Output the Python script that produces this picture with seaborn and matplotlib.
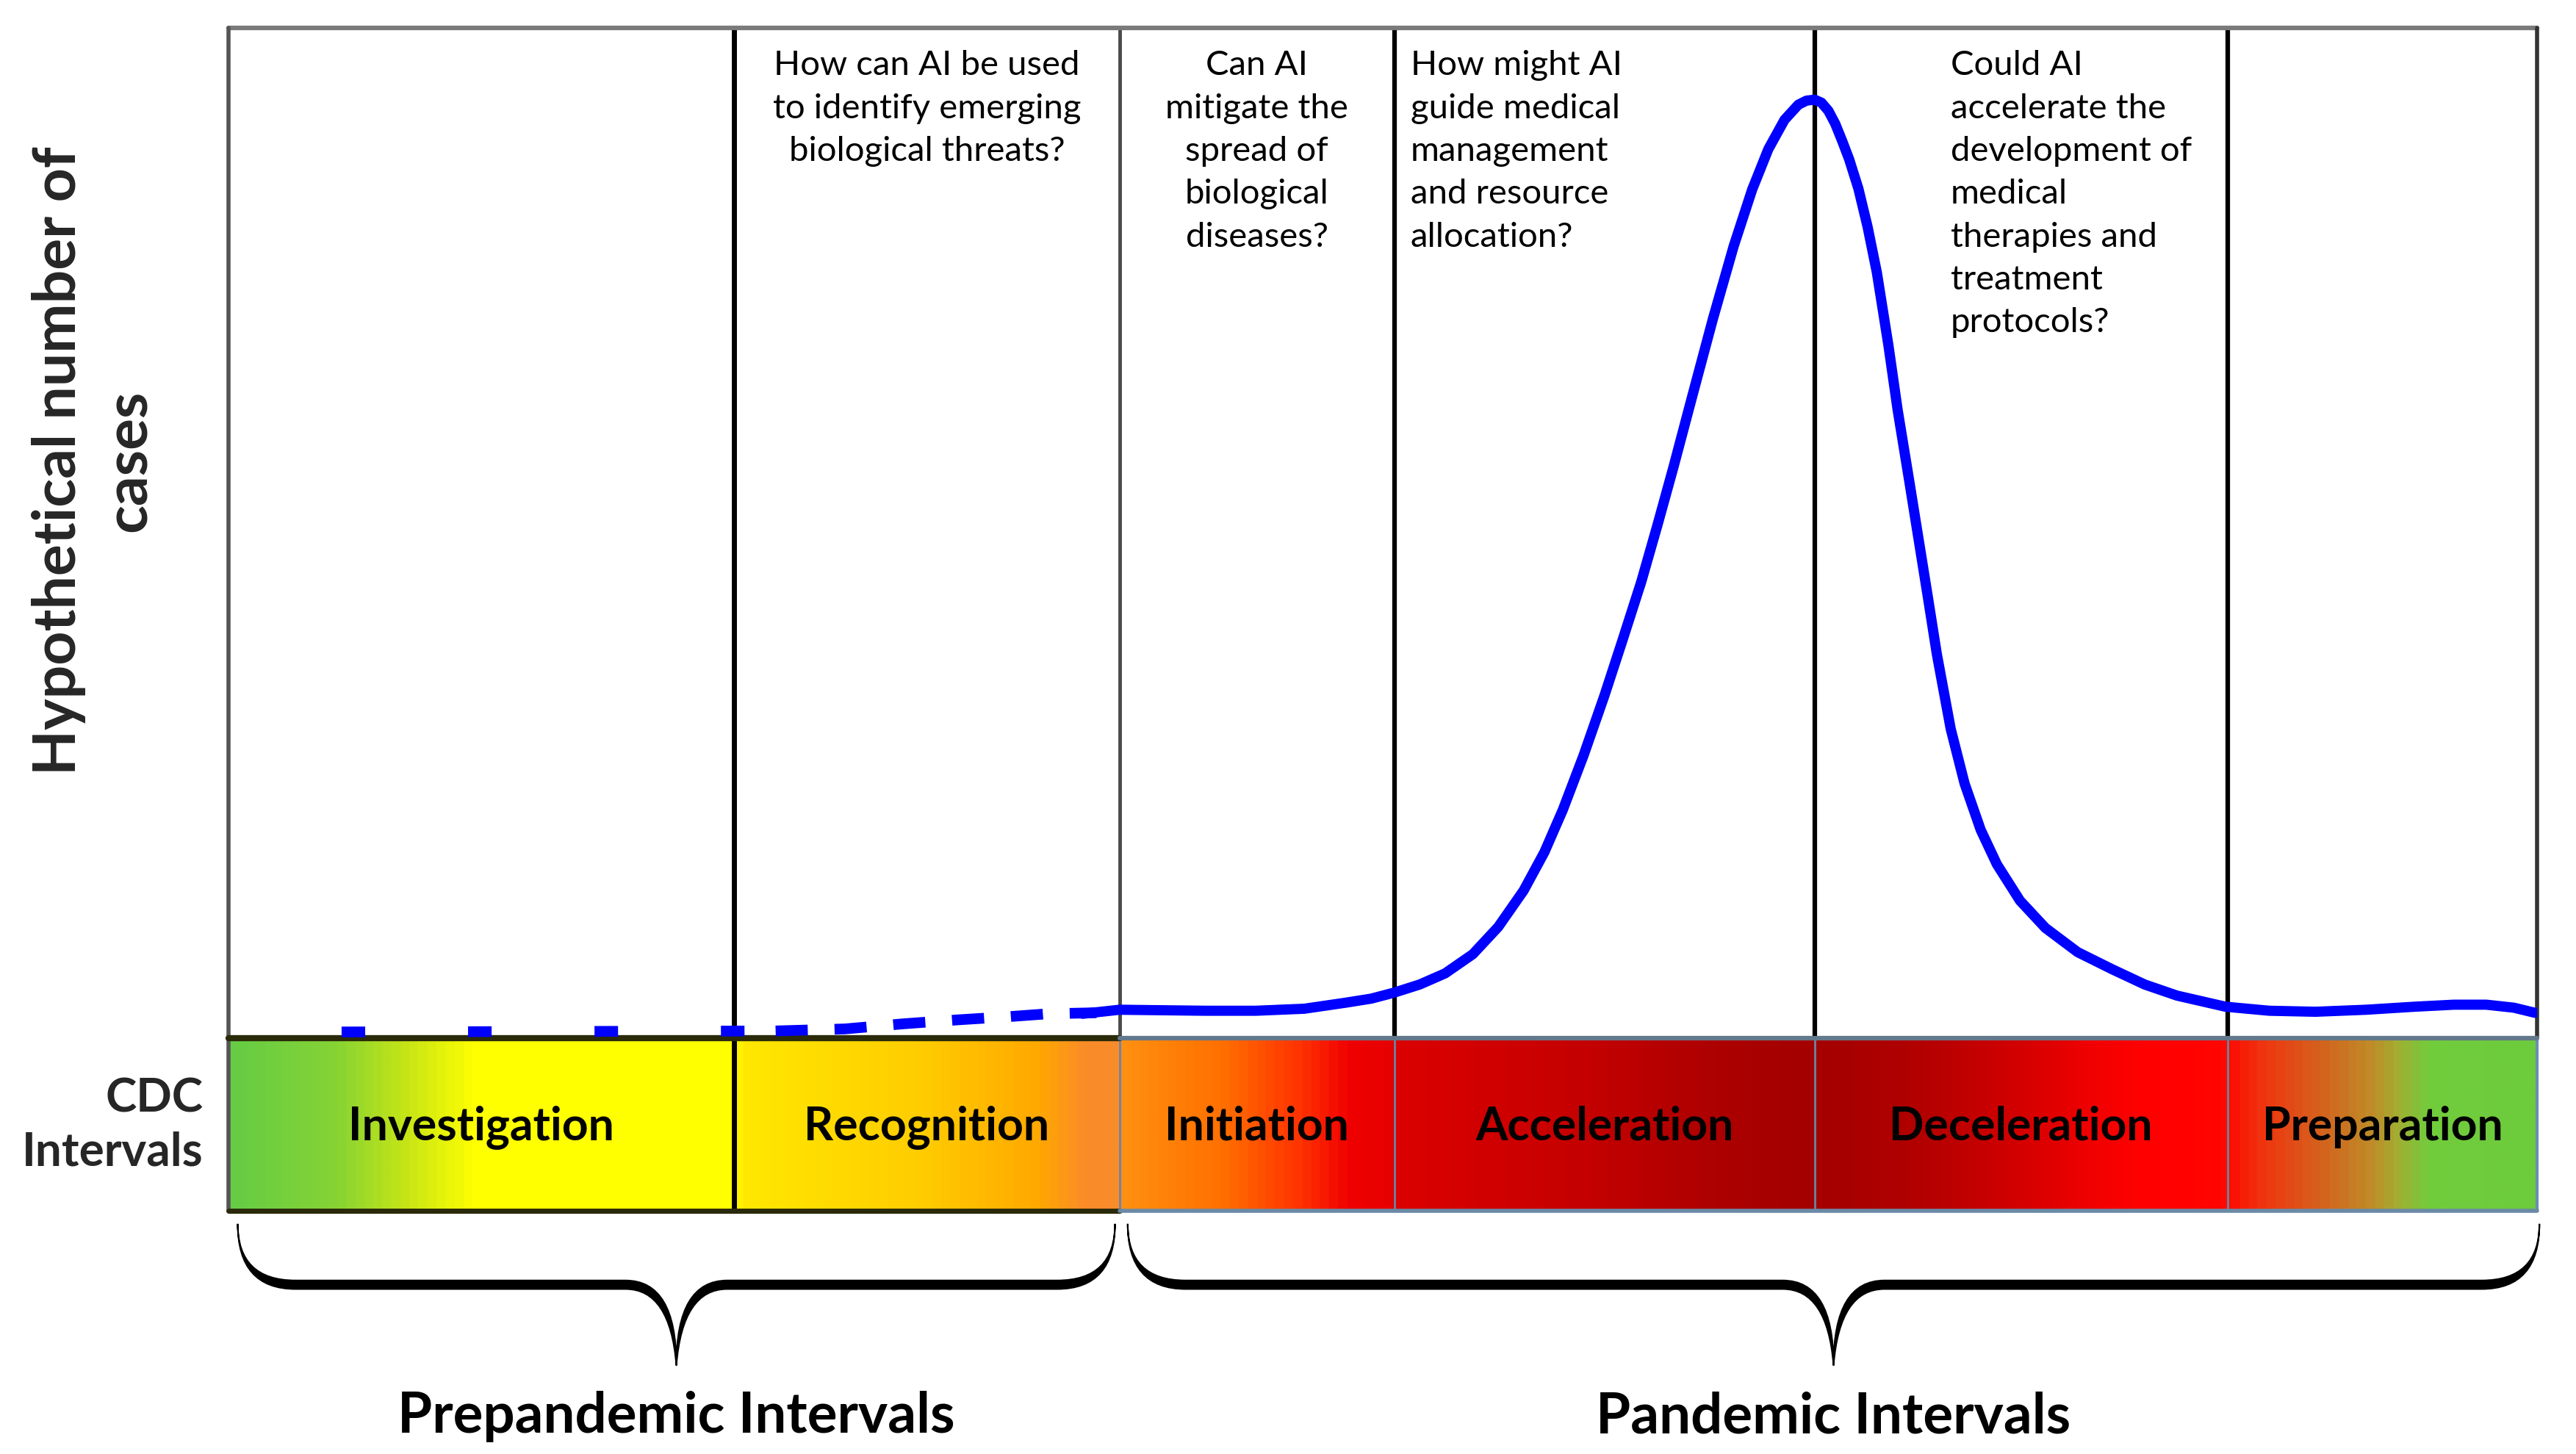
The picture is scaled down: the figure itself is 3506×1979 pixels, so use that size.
import numpy as np
import matplotlib.pyplot as plt
import seaborn as sns
from matplotlib.colors import LinearSegmentedColormap
from matplotlib.path import Path
from matplotlib.patches import PathPatch

# Hypothetical pandemic curve with the CDC intervals below it
# (time axis 0-100, cases axis 0-100, both)

# CDC intervals and their limits on the time axis
intervalli = ["Investigation", "Recognition", "Initiation", "Acceleration", "Deceleration", "Preparation"]
limiti = [0, 21.9, 38.6, 50.5, 68.7, 86.6, 100]

# Groups under the braces
gruppi = ["Prepandemic Intervals", "Pandemic Intervals"]
gruppi_inizio = [0.4, 38.95]
gruppi_fine = [38.4, 100.1]

# Questions on top of the intervals
domande = [
    "How can AI be used\nto identify emerging\nbiological threats?",
    "Can AI\nmitigate the\nspread of\nbiological\ndiseases?",
    "How might AI\nguide medical\nmanagement\nand resource\nallocation?",
    "Could AI\naccelerate the\ndevelopment of\nmedical\ntherapies and\ntreatment\nprotocols?",
]
domande_x = [30.25, 44.55, 51.2, 74.6]
domande_allineamento = ["center", "center", "left", "left"]

# Dashed (prepandemic) part of the curve
pre_x = [4.9, 23.7]
pre_y = [0.6, 0.7]
pre2_x = [23.7, 26.7, 29.2, 31.6, 33.7, 35.5, 37.6]
pre2_y = [0.7, 0.9, 1.4, 1.8, 2.1, 2.4, 2.5]

# Solid (pandemic) part of the curve
pan_x = [37.0, 38.6, 42.3, 44.5, 46.6, 48.4, 49.5, 50.5, 51.6, 52.7, 53.9, 55.0, 56.1,
         57.0, 57.8, 58.7, 59.6, 60.4, 61.2, 61.9, 62.6, 63.4, 64.3, 65.2, 66.0, 66.7,
         67.4, 68.0, 68.35, 68.7, 69.0, 69.3, 69.6, 69.9, 70.2, 70.6, 71.0, 71.4, 71.9,
         72.3, 72.8, 73.2, 73.6, 74.0, 74.6, 75.2, 75.9, 76.6, 77.6, 78.7, 80.1, 81.6,
         83.0, 84.4, 86.5, 88.4, 90.4, 92.6, 94.7, 96.4, 97.8, 99.0, 99.9]
pan_y = [2.4, 2.8, 2.7, 2.7, 2.9, 3.5, 3.9, 4.5, 5.3, 6.4, 8.3, 11.0, 14.6,
         18.4, 22.6, 28.0, 33.9, 39.5, 45.2, 50.8, 56.6, 63.5, 71.2, 78.4, 84.0, 88.0,
         90.9, 92.4, 92.8, 92.9, 92.6, 91.8, 90.5, 88.8, 87.0, 84.1, 80.3, 75.8, 68.6,
         62.2, 55.2, 49.5, 43.8, 38.0, 30.6, 25.2, 20.6, 17.2, 13.6, 10.9, 8.5, 6.8,
         5.3, 4.2, 3.1, 2.7, 2.6, 2.8, 3.1, 3.3, 3.3, 3.0, 2.5]

# Colour stops of the CDC band (position on the time axis, colour)
band_stops = [
    (0, "#66cc44"), (4.5, "#86d334"), (7.5, "#c6e516"), (10.5, "#ffff00"), (21.9, "#ffff00"),
    (22.0, "#ffe900"), (30, "#ffcc00"), (35, "#ffa800"), (37, "#fa8c28"), (38.5, "#f88c2c"),
    (38.7, "#ff9010"), (43, "#ff7000"), (46.5, "#ff3000"), (48.5, "#f00000"), (50.4, "#e60000"),
    (50.6, "#dc0000"), (59, "#c40000"), (64, "#ae0000"), (68.7, "#a30000"),
    (73.5, "#b30000"), (77.5, "#d20000"), (81, "#f20000"), (83, "#ff0000"), (86.5, "#ff0500"),
    (88.3, "#f03510"), (91.2, "#d06a20"), (93, "#bf8c28"), (94.1, "#a4ad32"), (95.5, "#72cc3c"),
    (100, "#6ccc3c"),
]

BAND_BOTTOM = -17.1
BLUE = "#0000ff"

# Theme
sns.set_theme(style="white")
plt.rcParams["font.family"] = ["Lato", "DejaVu Sans"]

fig = plt.figure(figsize=(35.06, 19.79), dpi=100)
ax = fig.add_axes([0.0887, 0.1673, 0.8962, 0.8135])

# Gradient band
cmap = LinearSegmentedColormap.from_list("cdc", [(p / 100, c) for p, c in band_stops])
ax.imshow(np.linspace(0, 1, 2000).reshape(1, -1), cmap=cmap, aspect="auto",
          extent=[0, 100, BAND_BOTTOM, 0], interpolation="bilinear", zorder=1)

# Vertical interval lines
for xb in limiti[1:-1]:
    if xb == limiti[1]:
        ax.plot([xb, xb], [BAND_BOTTOM, 100], color="black", lw=5, zorder=4, clip_on=False)
    elif xb == limiti[2]:
        ax.plot([xb, xb], [0, 100], color="#4a4a4a", lw=3.5, zorder=4)
        ax.plot([xb, xb], [BAND_BOTTOM, 0], color="#6a86a3", lw=2, zorder=4)
    else:
        ax.plot([xb, xb], [0, 100], color="black", lw=4.5, zorder=4)
        ax.plot([xb, xb], [BAND_BOTTOM, 0], color="#6a86a3", lw=2, zorder=4)

# Outer frame
ax.plot([0, 100], [100, 100], color="#7a7a7a", lw=4.5, zorder=4, clip_on=False)
ax.plot([0, 0], [BAND_BOTTOM, 100], color="#555555", lw=4, zorder=4, clip_on=False)
ax.plot([100, 100], [0, 100], color="#333333", lw=4, zorder=4, clip_on=False)
ax.plot([100, 100], [BAND_BOTTOM, 0], color="#6a8fb0", lw=3, zorder=4, clip_on=False)

# Band borders
ax.plot([0, limiti[2]], [0, 0], color="#2a2a0a", lw=6, zorder=4, clip_on=False)
ax.plot([limiti[2], 100], [0, 0], color="#64788c", lw=4.5, zorder=4, clip_on=False)
ax.plot([0, limiti[2]], [BAND_BOTTOM, BAND_BOTTOM], color="#2a2a0a", lw=5, zorder=4, clip_on=False)
ax.plot([limiti[2], 100], [BAND_BOTTOM, BAND_BOTTOM], color="#6a8aa6", lw=4, zorder=4, clip_on=False)

# Curve
sns.lineplot(x=pre_x, y=pre_y, ax=ax, color=BLUE, linewidth=10.5, linestyle=(0, (2.2, 9.6)), zorder=5)
sns.lineplot(x=pre2_x, y=pre2_y, ax=ax, color=BLUE, linewidth=10.5, linestyle=(0, (3.0, 2.5)), zorder=5)
sns.lineplot(x=pan_x, y=pan_y, ax=ax, color=BLUE, linewidth=10, zorder=5)

# Interval names in the band
for i, nome in enumerate(intervalli):
    xc = (limiti[i] + limiti[i + 1]) / 2
    ax.text(xc, -8.8, nome, ha="center", va="center", fontsize=45, fontweight="bold",
            color="black", zorder=6)

# Questions
for testo, xq, al in zip(domande, domande_x, domande_allineamento):
    ax.text(xq, 97.8, testo, ha=al, va="top", multialignment=al, fontsize=34,
            linespacing=1.48, color="black", zorder=6)


# Curly brace under a group of intervals
def graffa(x0, x1, y_top=-18.4, y_mid=-24.0, y_tip=-32.4, r=2.5, rt=2.2, t=0.85):
    xc = (x0 + x1) / 2
    verts = [
        (x0, y_top), (x0, y_mid), (x0 + r, y_mid),
        (xc - rt, y_mid),
        (xc, y_mid), (xc, y_tip),
        (xc, y_mid), (xc + rt, y_mid),
        (x1 - r, y_mid),
        (x1, y_mid), (x1, y_top),
        (x1, y_mid - t), (x1 - r, y_mid - t),
        (xc + rt, y_mid - t),
        (xc + 0.12 * rt, y_mid - t), (xc, y_tip),
        (xc - 0.12 * rt, y_mid - t), (xc - rt, y_mid - t),
        (x0 + r, y_mid - t),
        (x0, y_mid - t), (x0, y_top),
        (x0, y_top),
    ]
    codes = [Path.MOVETO, Path.CURVE3, Path.CURVE3, Path.LINETO,
             Path.CURVE3, Path.CURVE3, Path.CURVE3, Path.CURVE3, Path.LINETO,
             Path.CURVE3, Path.CURVE3,
             Path.CURVE3, Path.CURVE3, Path.LINETO,
             Path.CURVE3, Path.CURVE3, Path.CURVE3, Path.CURVE3, Path.LINETO,
             Path.CURVE3, Path.CURVE3, Path.CLOSEPOLY]
    ax.add_patch(PathPatch(Path(verts, codes), facecolor="black", edgecolor="black",
                           lw=1.5, clip_on=False, zorder=6))


for nome, x0, x1 in zip(gruppi, gruppi_inizio, gruppi_fine):
    graffa(x0, x1)
    ax.text((x0 + x1) / 2, -37.5, nome, ha="center", va="center", fontsize=55,
            fontweight="bold", color="black", clip_on=False)

# Axis labels
fig.text(0.0365, 0.683, "Hypothetical number of\ncases", rotation=90, ha="center", va="center",
         multialignment="center", fontsize=58, fontweight="bold", linespacing=1.35)
fig.text(0.079, 0.226, "CDC\nIntervals", ha="right", va="center", multialignment="right",
         fontsize=46, fontweight="bold", linespacing=1.35)

ax.set_xlim(0, 100)
ax.set_ylim(BAND_BOTTOM, 100)
ax.axis("off")

fig.savefig("out.png", dpi=100)
